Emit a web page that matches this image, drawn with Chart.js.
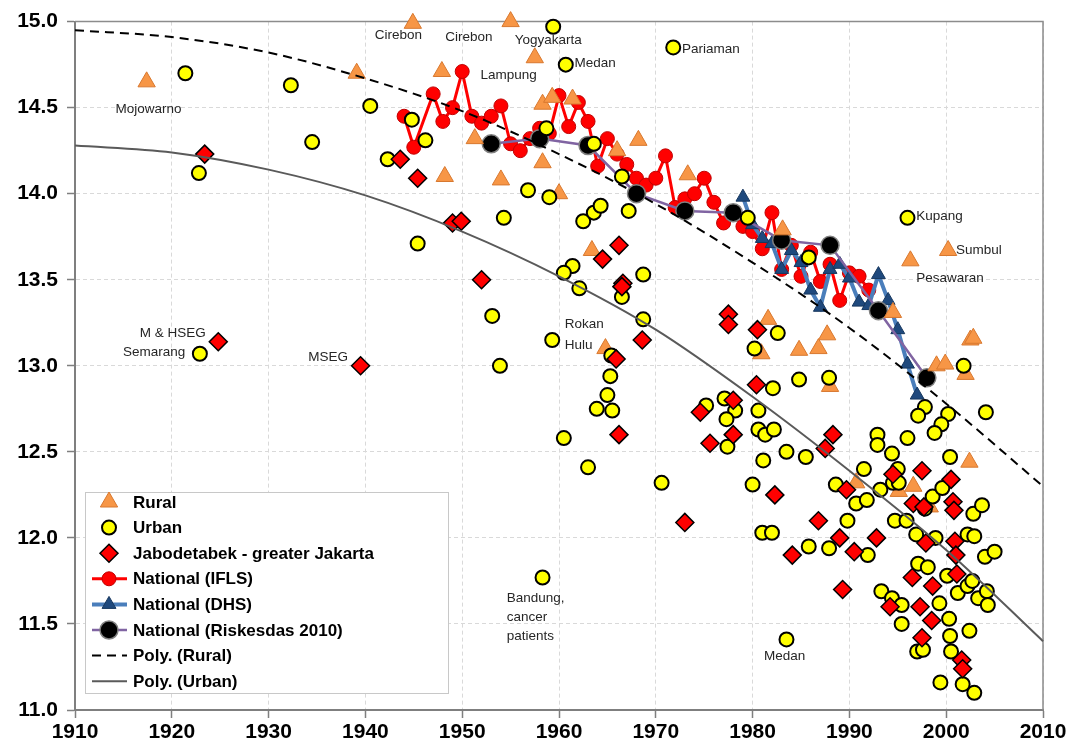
<!DOCTYPE html>
<html>
<head>
<meta charset="utf-8">
<script src="https://cdn.jsdelivr.net/npm/chart.js@4.4.1/dist/chart.umd.min.js"></script>
<style>
  html, body { margin: 0; padding: 0; background: #fff; }
  #wrap { width: 1069px; height: 754px; }
</style>
</head>
<body>
<div id="wrap"><canvas id="chart" width="1069" height="754"></canvas></div>
<script>
// ---- data ----
const rural = [
  [1917.4,14.65],[1939.1,14.70],[1944.9,14.99],[1947.9,14.71],[1955.0,15.00],[1957.5,14.79],
  [1948.2,14.10],[1951.3,14.32],[1954.0,14.08],[1958.3,14.52],[1959.3,14.56],[1961.4,14.55],
  [1958.3,14.18],[1960.0,14.00],[1963.4,13.67],[1966.0,14.25],[1968.2,14.31],[1973.3,14.11],
  [1964.8,13.10],[1983.1,13.79],[2000.2,13.67],[1996.3,13.61],[1994.5,13.31],[1981.6,13.27],
  [1987.7,13.18],[1984.8,13.09],[1986.8,13.10],[1980.9,13.07],[2002.5,13.15],[2002.8,13.16],
  [1999.0,13.00],[1999.9,13.01],[2002.0,12.95],[1988.0,12.88],[2002.4,12.44],[1990.7,12.32],
  [1995.1,12.27],[1996.6,12.30],[1998.3,12.18]
];

const urban = [
  [1921.4,14.70],[1922.8,14.12],[1932.3,14.63],[1934.5,14.30],[1940.5,14.51],[1942.3,14.20],
  [1945.4,13.71],[1944.8,14.43],[1946.2,14.31],[1922.9,13.07],[1956.8,14.02],[1954.3,13.86],
  [1959.0,13.98],[1958.7,14.38],[1959.4,14.97],[1960.7,14.75],[1971.8,14.85],[1963.6,14.29],
  [1966.5,14.10],[1962.5,13.84],[1963.6,13.89],[1964.3,13.93],[1967.2,13.90],[1961.4,13.58],
  [1960.5,13.54],[1962.1,13.45],[1968.7,13.53],[1966.5,13.40],[1968.7,13.27],[1953.1,13.29],
  [1959.3,13.15],[1953.9,13.00],[1965.4,13.06],[1965.3,12.94],[1965.0,12.83],[1963.9,12.75],
  [1965.5,12.74],[1960.5,12.58],[1963.0,12.41],[1975.2,12.77],[1977.1,12.81],[1978.2,12.74],
  [1977.3,12.69],[1977.4,12.53],[1980.2,13.10],[1980.6,12.74],[1980.6,12.63],[1981.3,12.60],
  [1981.1,12.45],[1970.6,12.32],[1980.0,12.31],[1958.3,11.77],[1985.8,13.63],[1982.6,13.19],
  [1982.1,12.87],[1984.8,12.92],[1987.9,12.93],[2001.8,13.00],[1997.8,12.76],[1997.1,12.71],
  [2000.2,12.72],[1999.5,12.66],[1998.8,12.61],[2004.1,12.73],[1996.0,12.58],[1992.9,12.60],
  [1992.9,12.54],[1994.4,12.49],[2000.4,12.47],[1982.2,12.63],[1983.5,12.50],[1985.5,12.47],
  [1991.5,12.40],[1981.0,12.03],[1982.0,12.03],[1985.8,11.95],[1987.9,11.94],[1988.6,12.31],
  [1989.8,12.10],[1990.7,12.20],[1991.8,12.22],[1991.9,11.90],[1993.2,12.28],[1994.7,12.10],
  [1995.9,12.10],[1996.9,12.02],[1998.9,12.00],[1998.6,12.24],[1999.6,12.29],[1995.0,12.40],
  [1994.5,12.32],[1995.1,12.32],[1997.8,12.17],[1997.1,11.85],[1998.1,11.83],[2000.1,11.78],
  [2001.2,11.68],[2002.2,11.72],[2002.7,11.75],[2002.8,12.14],[2003.7,12.19],[2002.2,12.02],
  [2002.9,12.01],[2004.0,11.89],[2005.0,11.92],[2003.3,11.65],[2004.2,11.69],[2004.3,11.61],
  [1993.3,11.69],[1994.4,11.65],[1995.4,11.61],[1995.4,11.50],[1999.3,11.62],[2000.3,11.53],
  [2000.4,11.43],[2000.5,11.34],[1997.0,11.34],[1997.6,11.35],[2002.4,11.46],[1999.4,11.16],
  [2001.7,11.15],[2002.9,11.10],[1983.5,11.41],[1996.0,13.86],[1979.5,13.86]
];

const jabodetabek = [
  [1923.4,14.23],[1943.6,14.20],[1945.4,14.09],[1949.0,13.83],[1949.9,13.84],[1952.0,13.50],
  [1924.8,13.14],[1939.5,13.00],[1964.5,13.62],[1966.2,13.70],[1966.6,13.48],[1966.5,13.46],
  [1968.6,13.15],[1965.9,13.04],[1966.2,12.60],[1977.5,13.30],[1977.5,13.24],[1974.6,12.73],
  [1975.6,12.55],[1978.0,12.80],[1978.0,12.60],[1980.5,13.21],[1980.4,12.89],[1973.0,12.09],
  [1982.3,12.25],[1986.8,12.10],[1984.1,11.90],[1989.0,12.00],[1989.7,12.28],[1989.3,11.70],
  [1990.5,11.92],[1992.8,12.00],[1994.2,11.60],[1994.5,12.37],[1996.5,11.77],[1996.6,12.20],
  [1997.7,12.18],[1997.3,11.60],[1997.5,11.42],[1998.6,11.72],[1998.5,11.52],[1997.9,11.97],
  [1997.5,12.39],[2000.5,12.34],[2000.7,12.21],[2000.8,12.16],[2000.9,11.98],[2001.0,11.90],
  [2001.1,11.79],[2001.6,11.29],[2001.7,11.24],[1988.3,12.60],[1987.5,12.52]
];

const iflsYears = [1944,1945,1947,1948,1949,1950,1951,1952,1953,1954,1955,1956,1957,1958,1959,1960,
  1961,1962,1963,1964,1965,1966,1967,1968,1969,1970,1971,1972,1973,1974,1975,1976,1977,1978,1979,
  1980,1981,1982,1983,1984,1985,1986,1987,1988,1989,1990,1991,1992];
const iflsValues = [14.45,14.27,14.58,14.42,14.50,14.71,14.45,14.41,14.45,14.51,14.29,14.25,14.32,
  14.38,14.35,14.57,14.39,14.53,14.42,14.16,14.32,14.23,14.17,14.09,14.05,14.09,14.22,13.92,13.97,
  14.00,14.09,13.95,13.83,13.88,13.81,13.78,13.68,13.89,13.56,13.70,13.52,13.66,13.49,13.59,13.38,
  13.54,13.52,13.44];

const dhsYears = [1979,1980,1981,1982,1983,1984,1985,1986,1987,1988,1989,1990,1991,1992,1993,1994,1995,1996,1997];
const dhsValues = [13.98,13.82,13.74,13.71,13.56,13.67,13.60,13.44,13.34,13.56,13.59,13.51,13.37,13.35,
  13.53,13.38,13.21,13.01,12.83];

const riskYears = [1953,1958,1963,1968,1973,1978,1983,1988,1993,1998];
const riskValues = [14.29,14.32,14.28,14.00,13.90,13.89,13.73,13.70,13.32,12.93];

const polyYears = [1910,1920,1930,1940,1950,1960,1970,1980,1990,2000,2010];
const ruralTrend = [14.95,14.91,14.82,14.67,14.48,14.23,13.94,13.60,13.22,12.78,12.30];
const urbanTrend = [14.28,14.24,14.14,13.99,13.78,13.52,13.21,12.82,12.39,11.93,11.40];

const xTicks = [1910,1920,1930,1940,1950,1960,1970,1980,1990,2000,2010];
const yTicks = [11.0,11.5,12.0,12.5,13.0,13.5,14.0,14.5,15.0];

// place names written beside the marks: [text, x, y, align]
const placeNames = [
  ['Mojowarno', 1917.6, 14.49, 'center'],
  ['Cirebon', 1943.4, 14.92, 'center'],
  ['Cirebon', 1950.7, 14.91, 'center'],
  ['Yogyakarta', 1958.9, 14.89, 'center'],
  ['Medan', 1961.6, 14.76, 'left'],
  ['Lampung', 1954.8, 14.69, 'center'],
  ['Pariaman', 1972.7, 14.84, 'left'],
  ['Kupang', 1996.9, 13.87, 'left'],
  ['Sumbul', 2001.0, 13.67, 'left'],
  ['Pesawaran', 1996.9, 13.51, 'left'],
  ['M & HSEG', 1923.5, 13.19, 'right'],
  ['Semarang', 1921.4, 13.08, 'right'],
  ['MSEG', 1938.2, 13.05, 'right'],
  ['Rokan', 1960.6, 13.24, 'left'],
  ['Hulu', 1960.6, 13.12, 'left'],
  ['Bandung,', 1954.6, 11.65, 'left'],
  ['cancer', 1954.6, 11.54, 'left'],
  ['patients', 1954.6, 11.43, 'left'],
  ['Medan', 1983.3, 11.31, 'center']
];

const legendOrder = ['Rural','Urban','Jabodetabek - greater Jakarta','National (IFLS)','National (DHS)',
  'National (Riskesdas 2010)','Poly. (Rural)','Poly. (Urban)'];

// ---- helpers ----
const pairs = a => a.map(p => ({x: p[0], y: p[1]}));
const zipXY = (xs, ys) => xs.map((x, i) => ({x: x, y: ys[i]}));
const SANS = '"Liberation Sans", Arial, sans-serif';

function drawMark(ctx, style, x, y, r) {
  ctx.beginPath();
  if (style === 'triangle') {
    ctx.moveTo(x, y - r);
    ctx.lineTo(x + r * 0.866, y + r * 0.5);
    ctx.lineTo(x - r * 0.866, y + r * 0.5);
    ctx.closePath();
  } else if (style === 'rectRot') {
    ctx.moveTo(x, y - r); ctx.lineTo(x + r, y); ctx.lineTo(x, y + r); ctx.lineTo(x - r, y);
    ctx.closePath();
  } else {
    ctx.arc(x, y, r, 0, Math.PI * 2);
  }
  ctx.fill();
  ctx.stroke();
}

const framePlugin = {
  id: 'frame',
  beforeDatasetsDraw(chart) {
    const {ctx, chartArea: a} = chart;
    ctx.save();
    ctx.strokeStyle = '#8c8c8c';
    ctx.lineWidth = 1.5;
    ctx.beginPath();
    ctx.moveTo(a.left, a.top); ctx.lineTo(a.right, a.top); ctx.lineTo(a.right, a.bottom);
    ctx.stroke();
    ctx.restore();
  }
};

const namesPlugin = {
  id: 'placeNames',
  afterDatasetsDraw(chart) {
    const {ctx, scales} = chart;
    ctx.save();
    ctx.font = '13.5px ' + SANS;
    ctx.fillStyle = '#262626';
    ctx.textBaseline = 'middle';
    placeNames.forEach(n => {
      ctx.textAlign = n[3];
      ctx.fillText(n[0], scales.x.getPixelForValue(n[1]), scales.y.getPixelForValue(n[2]));
    });
    ctx.restore();
  }
};

const legendPlugin = {
  id: 'boxLegend',
  afterDraw(chart) {
    const ctx = chart.ctx;
    const x0 = 85, y0 = 492, w = 363, h = 201;
    ctx.save();
    ctx.fillStyle = '#fff';
    ctx.fillRect(x0, y0, w, h);
    ctx.strokeStyle = '#c8c8c8';
    ctx.lineWidth = 1;
    ctx.strokeRect(x0 + 0.5, y0 + 0.5, w, h);
    legendOrder.forEach((lab, i) => {
      const ds = chart.data.datasets.find(d => d.label === lab);
      const cy = 502 + i * 25.6;
      if (ds.showLine) {
        ctx.save();
        ctx.strokeStyle = ds.borderColor;
        ctx.lineWidth = ds.borderWidth;
        ctx.setLineDash(ds.borderDash || []);
        ctx.beginPath();
        ctx.moveTo(92, cy); ctx.lineTo(127, cy);
        ctx.stroke();
        ctx.restore();
      }
      if (ds.pointRadius > 0) {
        ctx.fillStyle = ds.pointBackgroundColor;
        ctx.strokeStyle = ds.pointBorderColor;
        ctx.lineWidth = ds.pointBorderWidth;
        drawMark(ctx, ds.pointStyle, 109, cy, ds.pointRadius);
      }
      ctx.fillStyle = '#000';
      ctx.font = 'bold 17px ' + SANS;
      ctx.textAlign = 'left';
      ctx.textBaseline = 'middle';
      ctx.fillText(lab, 133, cy + 1);
    });
    ctx.restore();
  }
};

const marks = (o) => Object.assign({showLine: false, clip: false, pointHoverRadius: 0}, o);

new Chart(document.getElementById('chart'), {
  type: 'scatter',
  data: {
    datasets: [
      marks({label: 'Poly. (Rural)', data: zipXY(polyYears, ruralTrend), showLine: true, order: 1,
        borderColor: '#000', borderWidth: 2, borderDash: [9, 6], pointRadius: 0,
        cubicInterpolationMode: 'monotone'}),
      marks({label: 'Poly. (Urban)', data: zipXY(polyYears, urbanTrend), showLine: true, order: 1,
        borderColor: '#5a5a5a', borderWidth: 2, pointRadius: 0, cubicInterpolationMode: 'monotone'}),
      marks({label: 'Jabodetabek - greater Jakarta', data: pairs(jabodetabek), order: 2,
        pointStyle: 'rectRot', pointRadius: 9, pointBackgroundColor: '#ff0000',
        pointBorderColor: '#000', pointBorderWidth: 1.5}),
      marks({label: 'Urban', data: pairs(urban), order: 3,
        pointStyle: 'circle', pointRadius: 7, pointBackgroundColor: '#ffff00',
        pointBorderColor: '#000', pointBorderWidth: 2}),
      marks({label: 'Rural', data: pairs(rural), order: 4,
        pointStyle: 'triangle', pointRadius: 10, pointBackgroundColor: '#f79646',
        pointBorderColor: '#d8782f', pointBorderWidth: 1}),
      marks({label: 'National (Riskesdas 2010)', data: zipXY(riskYears, riskValues), showLine: true, order: 5,
        borderColor: '#8064a2', borderWidth: 2.5, pointStyle: 'circle', pointRadius: 9,
        pointBackgroundColor: '#000', pointBorderColor: '#808080', pointBorderWidth: 1.5}),
      marks({label: 'National (DHS)', data: zipXY(dhsYears, dhsValues), showLine: true, order: 6,
        borderColor: '#4a7ebb', borderWidth: 4, pointStyle: 'triangle', pointRadius: 8,
        pointBackgroundColor: '#1f497d', pointBorderColor: '#17375e', pointBorderWidth: 1}),
      marks({label: 'National (IFLS)', data: zipXY(iflsYears, iflsValues), showLine: true, order: 7,
        borderColor: '#ff0000', borderWidth: 3, pointStyle: 'circle', pointRadius: 7,
        pointBackgroundColor: '#ff0000', pointBorderColor: '#c00000', pointBorderWidth: 1})
    ]
  },
  options: {
    responsive: false,
    animation: false,
    devicePixelRatio: 1,
    layout: {padding: {top: 17, right: 26, left: 0, bottom: 0}},
    plugins: {legend: {display: false}, tooltip: {enabled: false}},
    scales: {
      x: {
        type: 'linear', min: xTicks[0], max: xTicks[xTicks.length - 1],
        afterBuildTicks: s => { s.ticks = xTicks.map(v => ({value: v})); },
        afterFit: s => { s.height = 44; },
        ticks: {color: '#000', padding: 2, maxRotation: 0, autoSkip: false,
          font: {family: SANS, size: 21, weight: 'bold'}, callback: v => String(v)},
        grid: {color: '#d9d9d9', lineWidth: 1, tickLength: 8, tickColor: '#7f7f7f', tickWidth: 1.5},
        border: {display: true, color: '#7f7f7f', width: 2, dash: [4, 3]}
      },
      y: {
        type: 'linear', min: yTicks[0], max: yTicks[yTicks.length - 1],
        afterBuildTicks: s => { s.ticks = yTicks.map(v => ({value: v})); },
        afterFit: s => { s.width = 75; },
        ticks: {color: '#000', padding: 9, autoSkip: false,
          font: {family: SANS, size: 21, weight: 'bold'}, callback: v => Number(v).toFixed(1)},
        grid: {color: '#d9d9d9', lineWidth: 1, tickLength: 8, tickColor: '#7f7f7f', tickWidth: 1.5},
        border: {display: true, color: '#7f7f7f', width: 2, dash: [4, 3]}
      }
    }
  },
  plugins: [framePlugin, namesPlugin, legendPlugin]
});
</script>
</body>
</html>
